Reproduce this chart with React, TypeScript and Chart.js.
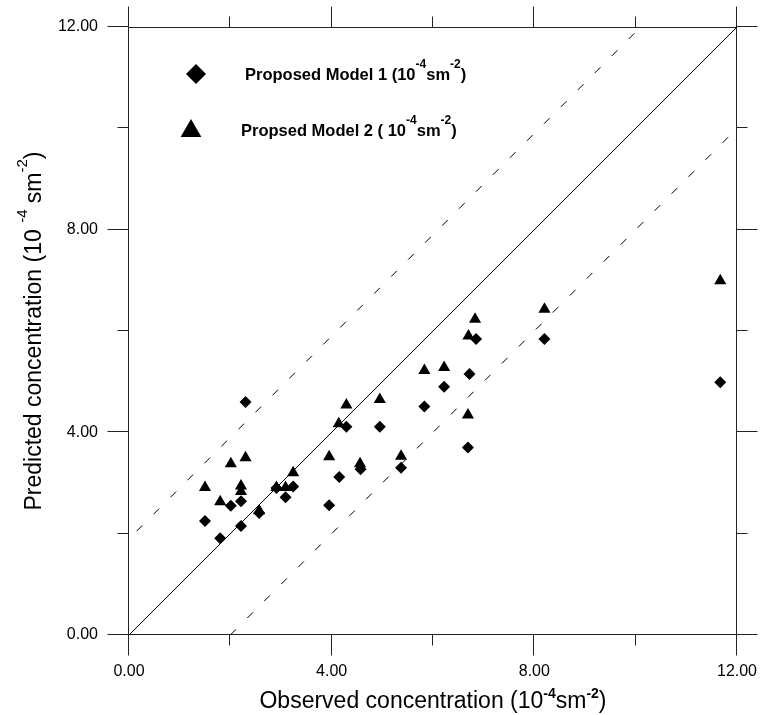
import React, { useEffect, useRef } from "react";
import { Chart, registerables } from "chart.js";

Chart.register(...registerables);

// ---- Data ----
const majorTicks = [0, 4, 8, 12];
const minorTicks = [2, 6, 10];

const model1X = [1.5, 1.8, 2.01, 2.21, 2.21, 2.3, 2.57, 2.91, 3.09, 3.24, 3.95, 4.15, 4.29, 4.57, 4.95, 5.37, 5.83, 6.22, 6.69, 6.72, 6.85, 8.2, 11.67];
const model1Y = [2.25, 1.91, 2.55, 2.15, 2.64, 4.6, 2.41, 2.9, 2.72, 2.93, 2.56, 3.12, 4.11, 3.27, 4.11, 3.3, 4.51, 4.9, 3.7, 5.15, 5.84, 5.84, 4.99];

const model2X = [1.5, 1.8, 2.01, 2.21, 2.21, 2.3, 2.57, 2.91, 3.09, 3.24, 3.95, 4.14, 4.29, 4.56, 4.95, 5.37, 5.83, 6.22, 6.69, 6.7, 6.83, 8.2, 11.67];
const model2Y = [2.91, 2.63, 3.38, 2.94, 2.83, 3.5, 2.45, 2.91, 2.91, 3.2, 3.52, 4.17, 4.54, 3.38, 4.65, 3.53, 5.22, 5.28, 4.34, 5.9, 6.23, 6.43, 6.99];

const identityX = [0, 12];
const identityY = [0, 12];
const upperBandX = [0.15, 10.1];
const upperBandY = [2.05, 12];
const lowerBandX = [2, 12];
const lowerBandY = [0, 10];

type Part = [string, boolean];
const legend1Parts: Part[] = [["Proposed Model 1 (10", false], ["-4", true], ["sm", false], ["-2", true], [")", false]];
const legend2Parts: Part[] = [["Propsed Model 2 ( 10", false], ["-4", true], ["sm", false], ["-2", true], [")", false]];
const xTitleParts: Part[] = [["Observed concentration (10", false], ["-4", true], ["sm", false], ["-2", true], [")", false]];
const yTitleParts: Part[] = [["Predicted concentration (10 ", false], ["-4", true], [" sm", false], ["-2", true], [")", false]];

const FONT = "'Liberation Sans', Arial, sans-serif";

const toPoints = (xs: number[], ys: number[]) => xs.map((x, i) => ({ x, y: ys[i] }));

function drawParts(
  ctx: CanvasRenderingContext2D,
  parts: Part[],
  x: number,
  y: number,
  font: string,
  supFont: string,
  supRaise: number,
  center: boolean
) {
  let total = 0;
  for (const [t, sup] of parts) {
    ctx.font = sup ? supFont : font;
    total += ctx.measureText(t).width;
  }
  let cx = center ? x - total / 2 : x;
  ctx.textAlign = "left";
  ctx.textBaseline = "alphabetic";
  for (const [t, sup] of parts) {
    ctx.font = sup ? supFont : font;
    ctx.fillText(t, cx, sup ? y - supRaise : y);
    cx += ctx.measureText(t).width;
  }
}

const framePlugin = {
  id: "frame",
  beforeDatasetsDraw(chart: any) {
    const { ctx, chartArea } = chart;
    const xs = chart.scales.x;
    const ys = chart.scales.y;
    const L = Math.round(chartArea.left) - 0.5;
    const R = Math.round(chartArea.right) - 0.5;
    const T = Math.round(chartArea.top) + 0.5;
    const B = Math.round(chartArea.bottom) - 0.5;
    ctx.save();
    ctx.strokeStyle = "#222";
    ctx.lineWidth = 1;
    ctx.beginPath();
    ctx.rect(L, T, R - L, B - T);
    const tick = (vals: number[], len: number) => {
      for (const v of vals) {
        const px = Math.round(xs.getPixelForValue(v)) - 0.5;
        ctx.moveTo(px, B);
        ctx.lineTo(px, B + len);
        ctx.moveTo(px, T);
        ctx.lineTo(px, T - len);
        const py = Math.round(ys.getPixelForValue(v)) - 0.5;
        ctx.moveTo(L, py);
        ctx.lineTo(L - len, py);
        ctx.moveTo(R, py);
        ctx.lineTo(R + len, py);
      }
    };
    tick(majorTicks, 21);
    tick(minorTicks, 11);
    ctx.stroke();
    ctx.restore();
  },
  afterDatasetsDraw(chart: any) {
    const { ctx, chartArea } = chart;
    ctx.save();
    ctx.fillStyle = "#000";
    // legend markers
    const d = 10;
    const dx = 196, dy = 74;
    ctx.beginPath();
    ctx.moveTo(dx - d, dy);
    ctx.lineTo(dx, dy - d);
    ctx.lineTo(dx + d, dy);
    ctx.lineTo(dx, dy + d);
    ctx.closePath();
    ctx.fill();
    const tx = 191, ty = 131, tr = 12;
    ctx.beginPath();
    ctx.moveTo(tx, ty - tr);
    ctx.lineTo(tx + tr * 0.866, ty + tr * 0.5);
    ctx.lineTo(tx - tr * 0.866, ty + tr * 0.5);
    ctx.closePath();
    ctx.fill();
    // legend texts
    drawParts(ctx, legend1Parts, 245, 80, `bold 16.5px ${FONT}`, `bold 12px ${FONT}`, 12, false);
    drawParts(ctx, legend2Parts, 241, 136, `bold 16.5px ${FONT}`, `bold 12px ${FONT}`, 12, false);
    // axis titles
    const cx = (chartArea.left + chartArea.right) / 2;
    drawParts(ctx, xTitleParts, cx, 708, `23px ${FONT}`, `bold 14px ${FONT}`, 10, true);
    const cy = (chartArea.top + chartArea.bottom) / 2;
    ctx.translate(41, cy);
    ctx.rotate(-Math.PI / 2);
    drawParts(ctx, yTitleParts, 0, 0, `23px ${FONT}`, `15px ${FONT}`, 14, true);
    ctx.restore();
  },
};

const zeroPad = (s: any) => {
  s.paddingTop = 0;
  s.paddingBottom = 0;
  s.paddingLeft = 0;
  s.paddingRight = 0;
};

export default function App() {
  const ref = useRef<HTMLCanvasElement>(null);
  useEffect(() => {
    const chart = new Chart(ref.current!, {
      type: "scatter",
      data: {
        datasets: [
          {
            label: "identity",
            data: toPoints(identityX, identityY),
            showLine: true,
            borderColor: "#000",
            borderWidth: 1,
            pointRadius: 0,
          },
          {
            label: "upper",
            data: toPoints(upperBandX, upperBandY),
            showLine: true,
            borderColor: "#000",
            borderWidth: 1,
            borderDash: [8, 16],
            pointRadius: 0,
          },
          {
            label: "lower",
            data: toPoints(lowerBandX, lowerBandY),
            showLine: true,
            borderColor: "#000",
            borderWidth: 1,
            borderDash: [8, 16],
            pointRadius: 0,
          },
          {
            label: "Proposed Model 1",
            data: toPoints(model1X, model1Y),
            pointStyle: "rectRot",
            pointRadius: 6,
            backgroundColor: "#000",
            borderColor: "#000",
            borderWidth: 0,
          },
          {
            label: "Propsed Model 2",
            data: toPoints(model2X, model2Y),
            pointStyle: "triangle",
            pointRadius: 7,
            backgroundColor: "#000",
            borderColor: "#000",
            borderWidth: 0,
          },
        ],
      },
      options: {
        responsive: false,
        animation: false,
        layout: { padding: { top: 27, right: 26, left: 0, bottom: 0 } },
        plugins: { legend: { display: false }, tooltip: { enabled: false } },
        scales: {
          x: {
            type: "linear",
            min: 0,
            max: 12,
            grid: { display: false, drawTicks: false },
            border: { display: false },
            afterBuildTicks: (s: any) => {
              s.ticks = majorTicks.map((v) => ({ value: v }));
            },
            afterFit: (s: any) => {
              s.height = 80;
              zeroPad(s);
            },
            ticks: {
              padding: 27,
              color: "#000",
              font: { family: FONT, size: 16 },
              callback: (v: any) => Number(v).toFixed(2),
            },
          },
          y: {
            type: "linear",
            min: 0,
            max: 12,
            grid: { display: false, drawTicks: false },
            border: { display: false },
            afterBuildTicks: (s: any) => {
              s.ticks = majorTicks.map((v) => ({ value: v }));
            },
            afterFit: (s: any) => {
              s.width = 129;
              zeroPad(s);
            },
            ticks: {
              padding: 31,
              color: "#000",
              font: { family: FONT, size: 16 },
              callback: (v: any) => Number(v).toFixed(2),
            },
          },
        },
      },
      plugins: [framePlugin],
    } as any);
    return () => chart.destroy();
  }, []);
  return (
    <div style={{ position: "fixed", left: 0, top: 0, width: 763, height: 715, background: "#fff" }}>
      <canvas ref={ref} width={763} height={715} style={{ display: "block", width: 763, height: 715 }} />
    </div>
  );
}
